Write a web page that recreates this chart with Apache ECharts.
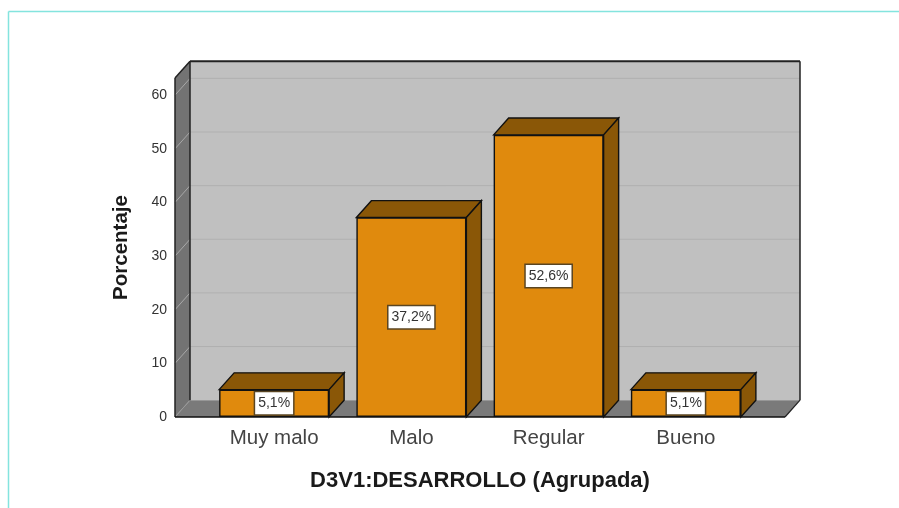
<!DOCTYPE html>
<html><head><meta charset="utf-8">
<style>html,body{margin:0;padding:0;background:#fff}#c{width:899px;height:508px}</style>
<script src="https://cdn.jsdelivr.net/npm/echarts@6/dist/echarts.min.js"></script>
</head><body><div id="c"></div>
<script>
const categories = ['Muy malo','Malo','Regular','Bueno'];
const percentages = [5.1,37.2,52.6,5.1];
const percentLabels = ['5,1%','37,2%','52,6%','5,1%'];
const gridTicks = [0,10,20,30,40,50,60];
const axisTop = 63.2;
const DX = 15, DY = -16.8, OUT = 30.5;
const FONT = '"Liberation Sans", Arial, sans-serif';
const chart = echarts.init(document.getElementById('c'), null, {renderer:'canvas'});

function poly(points, fill, stroke, lw){
  return {type:'polygon', shape:{points}, style:{fill, stroke:stroke||null, lineWidth:lw||0}};
}
function line(a,b,stroke,lw){
  return {type:'line', shape:{x1:a[0],y1:a[1],x2:b[0],y2:b[1]}, style:{stroke, lineWidth:lw||1, fill:null}};
}
function renderWalls(params, api){
  const g = params.coordSys;
  const L = g.x-OUT, R = g.x+g.width+OUT, T = g.y, B = g.y+g.height;
  const kids = [
    poly([[L+DX,T+DY],[R+DX,T+DY],[R+DX,B+DY],[L+DX,B+DY]],'#c0c0c0'),
    poly([[L,T],[L+DX,T+DY],[L+DX,B+DY],[L,B]],'#737373'),
    poly([[L,B],[L+DX,B+DY],[R+DX,B+DY],[R,B]],'#7a7a7a')
  ];
  gridTicks.forEach(v=>{
    if(v===0){ kids.push(line([L,B],[L+DX,B+DY],'#9a9a9a',1)); return; }
    const y = api.coord([0,v])[1];
    kids.push(line([L,y],[L+DX,y+DY],'#a8a8a8',1));
    kids.push(line([L+DX,y+DY],[R+DX,y+DY],'#b0b0b0',1));
  });
  kids.push(line([L+DX,T+DY],[R+DX,T+DY],'#222',2));
  kids.push(line([L+DX,T+DY],[L+DX,B+DY],'#222',1.5));
  kids.push(line([R+DX,T+DY],[R+DX,B+DY],'#222',1.5));
  kids.push(line([L,T],[L+DX,T+DY],'#222',1.5));
  kids.push(line([L,T],[L,B],'#222',1.5));
  kids.push(line([L,B],[R,B],'#111',1.5));
  kids.push(line([R,B],[R+DX,B+DY],'#222',1.2));
  return {type:'group', children:kids};
}
function renderBarSides(params, api){
  const i = api.value(0), v = api.value(1);
  const top = api.coord([i,v]), base = api.coord([i,0]);
  const w = 110;
  const l = top[0]-w/2, r = top[0]+w/2, t = top[1], b = base[1];
  return {type:'group', children:[
    poly([[l,t],[l+DX,t+DY],[r+DX,t+DY],[r,t]],'#8a5707','#111',1.4),
    poly([[r,t],[r+DX,t+DY],[r+DX,b+DY],[r,b]],'#8a5707','#111',1.4)
  ]};
}
chart.setOption({
  animation:false,
  backgroundColor:'#fff',
  graphic:[
    {type:'line', shape:{x1:8.5,y1:11.5,x2:899,y2:11.5}, style:{stroke:'#84e4de',lineWidth:1.5}},
    {type:'line', shape:{x1:8.5,y1:11.5,x2:8.5,y2:508}, style:{stroke:'#84e4de',lineWidth:1.5}}
  ],
  grid:{left:205.5, width:549, top:78, height:339},
  xAxis:{type:'category', data:categories, boundaryGap:true,
    axisLine:{show:false}, axisTick:{show:false}, splitLine:{show:false},
    axisLabel:{fontFamily:FONT,fontSize:20.5,color:'#444',margin:11},
    name:'D3V1:DESARROLLO (Agrupada)', nameLocation:'middle', nameGap:53,
    nameTextStyle:{fontFamily:FONT,fontSize:22,fontWeight:'bold',color:'#1a1a1a'}},
  yAxis:{type:'value', min:0, max:axisTop, interval:10, offset:OUT,
    axisLine:{show:false}, axisTick:{show:false}, splitLine:{show:false},
    axisLabel:{fontFamily:FONT,fontSize:14,color:'#333',margin:8,showMaxLabel:false,padding:[2,0,0,0]},
    name:'Porcentaje', nameLocation:'middle', nameGap:43,
    nameTextStyle:{fontFamily:FONT,fontSize:20.5,fontWeight:'bold',color:'#1a1a1a'}},
  series:[
    {type:'custom', name:'walls', z:1, silent:true, clip:false, renderItem:renderWalls, data:[[0,0]], encode:{x:0,y:1}},
    {type:'custom', name:'sides', z:2, silent:true, clip:false, renderItem:renderBarSides,
      data:percentages.map((v,i)=>[i,v]), encode:{x:0,y:1}},
    {type:'bar', name:'Porcentaje', z:3, barWidth:110, data:percentages,
      itemStyle:{color:'#e08a0d',borderColor:'#111',borderWidth:1.4},
      label:{show:true, position:'inside', fontFamily:FONT, fontSize:14, color:'#333',
        backgroundColor:'#fff', borderColor:'#5a4522', borderWidth:1.5, padding:[6,3,2,3],
        formatter:p=>percentLabels[p.dataIndex]}}
  ]
});
</script></body></html>
